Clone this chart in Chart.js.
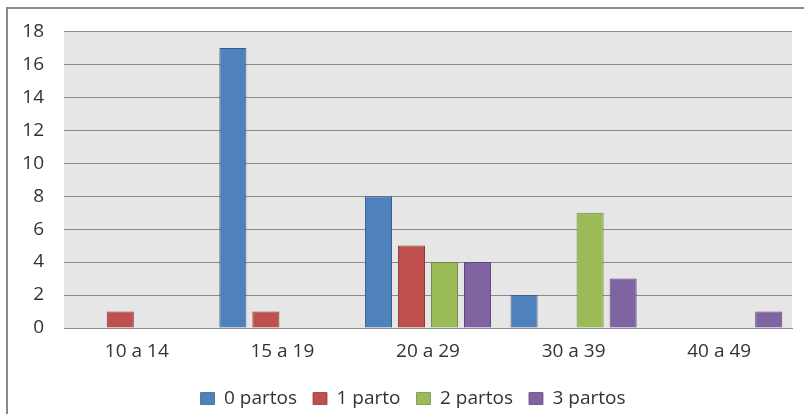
<!DOCTYPE html>
<html>
<head>
<meta charset="utf-8">
<script src="https://cdn.jsdelivr.net/npm/chart.js@4/dist/chart.umd.min.js"></script>
<style>
  html, body { margin: 0; padding: 0; background: #fff; }
  #wrap { position: relative; width: 804px; height: 414px; overflow: hidden; }
  #frame { position: absolute; left: 6px; top: 7px; width: 820px; height: 430px; border: 2px solid #8a8a8a; box-sizing: border-box; }
  canvas { position: absolute; left: 0; top: 0; }
</style>
</head>
<body>
<div id="wrap">
  <div id="frame"></div>
  <canvas id="chart" width="804" height="414"></canvas>
</div>
<script>
const categories = ['10 a 14', '15 a 19', '20 a 29', '30 a 39', '40 a 49'];
const partos0 = [0, 17, 8, 2, 0];
const partos1 = [1, 1, 5, 0, 0];
const partos2 = [0, 0, 4, 7, 0];
const partos3 = [0, 0, 4, 3, 1];
const seriesNames = ['0 partos', '1 parto', '2 partos', '3 partos'];
const fills = ['#4F81BD', '#C0504D', '#9BBB59', '#8064A2'];
const edges = ['#385D8A', '#8C3836', '#71893F', '#5C4776'];

const plotBg = {
    id: 'plotBg',
    beforeDraw(chart) {
        const a = chart.chartArea;
        const c = chart.ctx;
        c.save();
        c.fillStyle = '#E6E6E6';
        c.fillRect(a.left, a.top, a.right - a.left, a.bottom - a.top);
        c.restore();
    }
};

// legend sits a little right of the canvas centre in the original
const legendShift = {
    id: 'legendShift',
    afterLayout(chart) {
        chart.legend.left += 17;
        chart.legend.right += 17;
    }
};

const font = { family: 'Open Sans', size: 19 };

new Chart(document.getElementById('chart').getContext('2d'), {
    type: 'bar',
    data: {
        labels: categories,
        datasets: [partos0, partos1, partos2, partos3].map((d, i) => ({
            label: seriesNames[i],
            data: d,
            backgroundColor: fills[i],
            borderColor: edges[i],
            borderWidth: { top: 1, left: 1, right: 1, bottom: 0 },
            borderSkipped: false,
            categoryPercentage: 0.907,
            barPercentage: 0.82
        }))
    },
    options: {
        responsive: false,
        animation: false,
        layout: { padding: { top: 18, right: 12, bottom: -4, left: 0 } },
        plugins: {
            legend: {
                position: 'bottom',
                labels: {
                    font: font,
                    color: '#333',
                    boxWidth: 14,
                    boxHeight: 12,
                    padding: 16
                }
            },
            tooltip: { enabled: false }
        },
        scales: {
            x: {
                grid: { display: false, drawTicks: false },
                border: { color: '#8a8a8a', width: 1 },
                ticks: { font: font, color: '#333', padding: 12 },
                afterFit(s) { s.height = 45; }
            },
            y: {
                min: 0,
                max: 18,
                ticks: { stepSize: 2, font: font, color: '#333', padding: 20 },
                grid: { color: '#8a8a8a', drawTicks: false },
                border: { display: false },
                afterFit(s) { s.width = 64; }
            }
        }
    },
    plugins: [plotBg, legendShift]
});
</script>
</body>
</html>
